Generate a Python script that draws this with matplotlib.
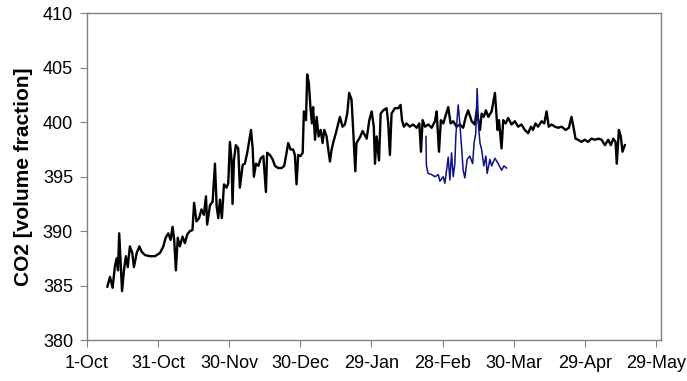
import matplotlib
matplotlib.use("Agg")
from matplotlib import pyplot as plt
import matplotlib.dates as mdates
from matplotlib.ticker import FixedLocator
import datetime as dt

plt.rcParams['font.family'] = ['Liberation Sans', 'DejaVu Sans']

start = dt.datetime(2012, 10, 1)

# Station record: days since 1 Oct, CO2
station_days = [
    8.6, 9.7, 10.8, 11.8, 12.5, 13.1, 13.6, 14.2, 14.8, 15.6,
    16.4, 17.2, 18.1, 19.1, 19.8, 21.0, 22.1, 23.1, 24.5, 26.6,
    28.7, 30.8, 32.2, 33.2, 34.3, 35.3, 36.1, 36.8, 37.5, 38.3,
    39.2, 40.3, 41.3, 42.3, 43.4, 44.5, 45.2, 46.2, 47.3, 48.3,
    49.3, 50.2, 50.7, 51.9, 53.0, 54.0, 54.7, 55.4, 56.1, 56.9,
    57.8, 58.9, 59.6, 60.3, 61.0, 61.4, 62.0, 62.8, 63.8, 64.5,
    65.7, 66.6, 67.6, 68.3, 69.2, 69.9, 70.4, 71.3, 72.3, 73.3,
    74.4, 75.5, 76.0, 77.2, 78.3, 79.3, 80.7, 82.1, 83.2, 84.2,
    84.9, 85.9, 87.0, 87.7, 88.4, 89.1, 90.1, 91.0, 91.5, 92.4,
    92.9, 93.6, 94.3, 94.9, 95.4, 96.2, 96.9, 97.7, 98.6, 99.4,
    100.1, 101.1, 101.8, 102.5, 103.2, 104.2, 105.0, 106.0, 106.7, 107.8,
    108.8, 109.8, 110.6, 111.6, 112.3, 113.2, 113.7, 115.1, 116.3, 118.0,
    119.1, 120.1, 121.0, 121.5, 122.2, 123.2, 123.9, 125.0, 126.4, 127.1,
    127.8, 128.5, 129.9, 131.3, 132.3, 132.9, 133.7, 134.8, 136.2, 137.6,
    139.1, 140.2, 140.9, 141.6, 142.6, 144.0, 145.4, 146.8, 147.5, 148.5,
    149.3, 150.3, 151.4, 152.4, 153.4, 154.5, 155.9, 157.3, 158.7, 159.8,
    160.8, 162.3, 163.6, 164.4, 165.8, 166.5, 167.4, 168.3, 169.3, 170.7,
    172.1, 173.2, 173.8, 174.9, 175.6, 176.6, 177.7, 179.1, 180.5, 181.9,
    183.3, 184.7, 186.1, 187.3, 188.2, 189.2, 190.3, 191.8, 192.9, 193.9,
    194.8, 196.0, 197.4, 198.8, 200.2, 201.9, 203.3, 204.4, 205.3, 206.1,
    207.2, 208.6, 210.0, 211.4, 212.8, 214.3, 215.7, 217.1, 218.5, 219.9,
    221.0, 222.0, 223.0, 223.5, 224.4, 225.2, 225.9, 226.9,
]
station_co2 = [
    384.9, 385.8, 384.8, 386.8, 387.5, 386.4, 389.8, 387.1, 384.5, 386.4,
    387.7, 386.7, 388.6, 388.0, 386.7, 388.0, 388.6, 388.1, 387.8, 387.7,
    387.7, 388.0, 388.6, 389.4, 389.8, 389.2, 390.4, 389.2, 386.4, 389.4,
    388.6, 389.5, 388.9, 389.7, 390.0, 390.1, 392.6, 390.9, 391.2, 392.0,
    391.5, 393.2, 390.6, 392.4, 392.7, 396.2, 392.3, 391.2, 392.9, 391.2,
    394.3, 394.0, 394.4, 398.2, 396.5, 392.5, 396.5, 397.9, 397.6, 394.0,
    396.1, 396.2, 397.2, 398.1, 399.3, 397.6, 395.0, 396.2, 396.0, 396.7,
    396.9, 393.6, 397.2, 397.0, 396.6, 396.0, 395.8, 395.8, 396.0, 397.2,
    398.1, 397.5, 397.5, 397.0, 394.3, 397.0, 396.9, 397.2, 401.0, 400.2,
    404.4, 403.6, 401.3, 399.9, 401.4, 398.4, 400.5, 398.7, 399.3, 398.1,
    399.3, 398.7, 397.5, 396.4, 397.5, 398.4, 399.0, 399.9, 400.5, 399.6,
    399.8, 400.8, 402.7, 402.1, 399.3, 395.5, 398.1, 398.6, 399.2, 398.5,
    400.2, 401.0, 399.6, 396.2, 398.7, 396.5, 400.8, 401.1, 401.3, 399.9,
    397.0, 400.8, 401.3, 401.3, 401.6, 400.2, 399.6, 399.9, 399.6, 399.8,
    399.5, 399.9, 397.3, 400.2, 399.6, 399.8, 399.5, 400.1, 401.0, 397.3,
    400.2, 399.9, 400.7, 401.4, 399.9, 400.1, 399.6, 399.8, 399.5, 400.5,
    401.1, 400.1, 399.8, 401.1, 399.3, 400.8, 400.5, 401.1, 400.5, 401.0,
    402.7, 399.3, 400.2, 397.6, 400.2, 399.9, 400.4, 399.8, 400.1, 399.6,
    399.8, 399.3, 399.0, 399.6, 399.3, 399.9, 399.6, 400.1, 399.9, 401.0,
    399.6, 399.8, 399.6, 399.5, 399.6, 399.3, 399.5, 400.5, 399.5, 398.5,
    398.4, 398.2, 398.4, 398.2, 398.5, 398.4, 398.5, 398.4, 397.9, 398.4,
    397.9, 398.5, 398.2, 396.2, 399.3, 398.7, 397.3, 397.9,
]

# Second instrument, late Feb to end of March
second_days = [
    143.0, 143.2, 143.9, 145.4, 146.8, 148.2, 148.9, 150.3, 151.0, 151.7,
    152.4, 153.1, 153.8, 154.5, 155.2, 155.6, 156.6, 157.3, 158.0, 158.7,
    159.4, 160.4, 161.5, 162.7, 163.3, 164.0, 164.6, 165.2, 165.8, 166.5,
    167.4, 168.3, 168.8, 170.0, 170.7, 172.1, 173.5, 174.9, 175.9, 177.0,
]
second_co2 = [
    398.7, 396.0, 395.3, 395.2, 395.0, 395.2, 394.6, 395.0, 394.4, 395.6,
    396.8, 394.7, 397.2, 395.0, 396.2, 398.7, 401.6, 399.9, 397.8, 395.6,
    394.9, 396.6, 396.9, 396.2, 398.1, 399.0, 403.1, 399.6, 398.1, 397.5,
    396.0, 396.9, 395.3, 396.6, 396.0, 396.7, 396.2, 395.6, 396.0, 395.8,
]

tick_days = [0, 30, 60, 90, 120, 150, 180, 210, 240]


def to_dates(days):
    return [start + dt.timedelta(days=d) for d in days]


fig = plt.figure(figsize=(6.87, 3.81), dpi=100)
ax = fig.add_axes([0.1266, 0.1076, 0.835, 0.857])

ax.plot(to_dates(station_days), station_co2, color='black', lw=1.7)
ax.plot(to_dates(second_days), second_co2, color='#10108a', lw=1.1)

ax.set_xlim(start, start + dt.timedelta(days=242))
ax.set_ylim(380, 410)
ax.set_yticks(range(380, 411, 5))
ax.xaxis.set_major_locator(FixedLocator(mdates.date2num(to_dates(tick_days))))
ax.xaxis.set_major_formatter(mdates.DateFormatter('%-d-%b'))

ax.set_ylabel('CO2 [volume fraction]', fontsize=15, fontweight='bold', labelpad=7)
ax.tick_params(axis='both', labelsize=13, direction='out', length=5,
               color='#808080')
ax.tick_params(axis='x', pad=6)
ax.tick_params(axis='y', pad=5)
for s in ax.spines.values():
    s.set_color('#808080')
    s.set_linewidth(1.0)

fig.savefig('out.png', dpi=100)
